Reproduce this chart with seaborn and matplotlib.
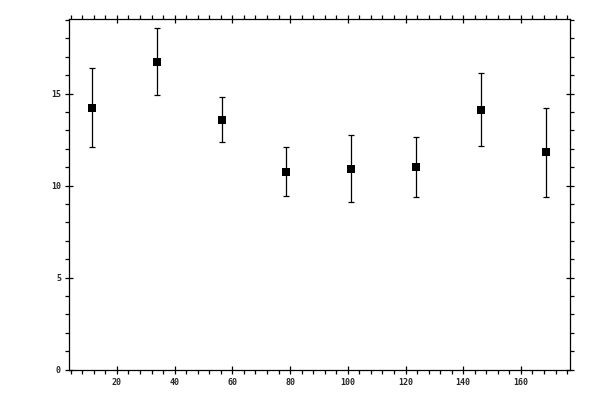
import matplotlib
matplotlib.use("Agg")
import matplotlib.pyplot as plt
import seaborn as sns
import pandas as pd
from matplotlib.ticker import MultipleLocator

x_vals = [11.25, 33.75, 56.25, 78.75, 101.25, 123.75, 146.25, 168.75]
y_vals = [14.24, 16.72, 13.59, 10.76, 10.92, 11.03, 14.12, 11.80]
y_err = [2.17, 1.82, 1.20, 1.31, 1.82, 1.63, 1.99, 2.42]
x_ticks = [20, 40, 60, 80, 100, 120, 140, 160]
y_ticks = [0, 5, 10, 15]

df = pd.DataFrame({"x": x_vals, "y": y_vals, "err": y_err})

sns.set_style("white")
plt.rcParams["font.family"] = ["DejaVu Sans Mono", "DejaVu Sans"]

fig = plt.figure(figsize=(6, 4), dpi=100)
ax = fig.add_axes([0.1155, 0.0758, 0.835, 0.8767])

ax.errorbar(df["x"], df["y"], yerr=df["err"], fmt="none", ecolor="black",
            elinewidth=0.9, capsize=2.2, capthick=0.9, zorder=2)
sns.scatterplot(data=df, x="x", y="y", marker="s", s=26, color="black",
                edgecolor="black", linewidth=0, ax=ax, zorder=3)

ax.set_xlim(3.5, 177.1)
ax.set_ylim(0, 19.05)
ax.xaxis.set_minor_locator(MultipleLocator(4))
ax.yaxis.set_minor_locator(MultipleLocator(1))

ax.set_xticks(x_ticks)
ax.set_xticklabels([str(v) for v in x_ticks])
ax.set_yticks(y_ticks)
ax.set_yticklabels([str(v) for v in y_ticks])

for s in ax.spines.values():
    s.set_visible(True)
    s.set_color("black")
    s.set_linewidth(0.9)

ax.tick_params(which="major", direction="inout", length=6, width=0.9,
               color="black", labelsize=6, pad=3,
               top=True, right=True, bottom=True, left=True,
               labeltop=False, labelright=False)
ax.tick_params(which="minor", direction="out", length=2.8, width=0.9,
               color="black", top=True, right=True, bottom=True, left=True)
for lab in ax.get_xticklabels() + ax.get_yticklabels():
    lab.set_fontweight("bold")

ax.set_xlabel("")
ax.set_ylabel("")
ax.grid(False)

fig.savefig("out.png", dpi=100)
